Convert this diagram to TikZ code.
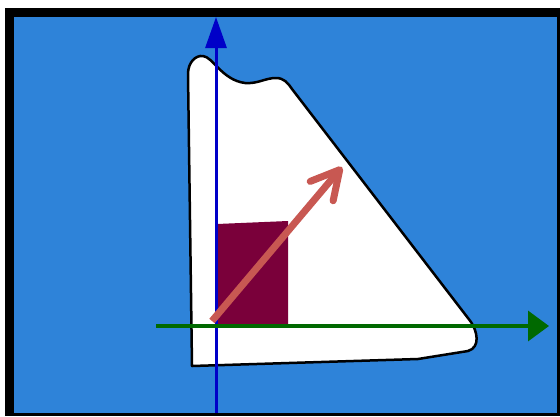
\documentclass[tikz,border=0pt]{standalone}
\usetikzlibrary{arrows.meta}

\definecolor{bgblue}{RGB}{46,131,217}
\definecolor{axisblue}{RGB}{0,0,200}
\definecolor{axisgreen}{RGB}{0,105,0}
\definecolor{patchred}{RGB}{122,0,58}
\definecolor{vecred}{RGB}{200,88,82}

\tikzset{
	outline/.style={draw=black, line width=2.5pt, fill=white, line join=round},
	axis/.style={line width=#1},
}

\begin{document}
\begin{tikzpicture}[x=1pt, y=-1pt]

		\useasboundingbox (0,0) rectangle (560,416);
		\fill[white] (0,0) rectangle (560,416);
		\fill[black] (5,8) rectangle (560,416);
		\fill[bgblue] (14,17) rectangle (557,413);

		\draw[outline] (192,366) -- (188,74) .. controls (188,62) and (196,55) .. (203,56)
			.. controls (213,57) and (222,80) .. (245,83) .. controls (258,84) and (265,78) .. (276,78)
			.. controls (284,78) and (288,83) .. (292,89) -- (471,322)
			.. controls (477,331) and (481,347) .. (468,351) -- (418,359) -- cycle;

		\fill[patchred] (217,224) -- (288,221) -- (288,326) -- (217,326) -- cycle;

		\coordinate (yfoot) at (216,413);
		\coordinate (ytip) at (216,17);
		\draw[axis=3pt, axisblue, -{Triangle[length=31pt, width=21pt]}] (yfoot) -- (ytip);

		\coordinate (xfoot) at (156,326);
		\coordinate (xtip) at (549,326);
		\draw[axis=3.5pt, axisgreen, -{Triangle[length=21pt, width=30pt]}] (xfoot) -- (xtip);

		\coordinate (vfoot) at (212,321);
		\coordinate (vtip) at (342,167);
		\draw[axis=7pt, vecred, -{Straight Barb[round, length=28pt, width=30pt]}] (vfoot) -- (vtip);

	\end{tikzpicture}
\end{document}
